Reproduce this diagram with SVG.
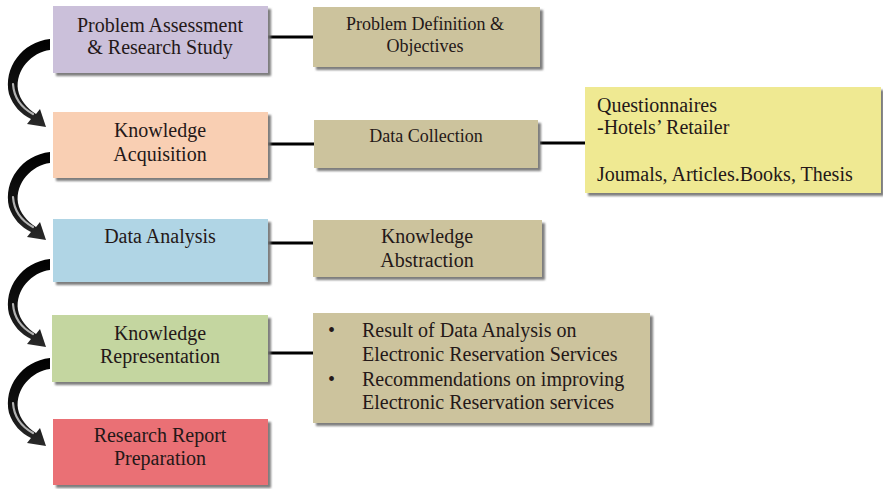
<svg xmlns="http://www.w3.org/2000/svg" xmlns:xlink="http://www.w3.org/1999/xlink" width="883" height="489" viewBox="0 0 883 489">
  <style>
    .box { stroke: none; filter: url(#shadow); }
    .t { font-family: "Liberation Serif", "Times New Roman", serif; font-size: 20px; fill: #241818; }
    .s { font-size: 18px; }
    .c { text-anchor: middle; }
    .link { stroke: #000; stroke-width: 3; fill: none; }
  </style>
  <defs>
    <filter id="shadow" x="-5%" y="-5%" width="115%" height="125%">
      <feDropShadow dx="3" dy="3" stdDeviation="1" flood-color="#6f6f6f" flood-opacity="0.9"/>
    </filter>
    <linearGradient id="arcFill" x1="0" y1="0" x2="0" y2="1">
      <stop offset="0" stop-color="#000"/>
      <stop offset="0.55" stop-color="#111"/>
      <stop offset="1" stop-color="#2a2a2a"/>
    </linearGradient>
    <!-- curved step arrow: wide tail at top, head at bottom right -->
    <g id="arc">
      <path d="M 50 39 C 22 42, 3 68, 9 94 C 13 106, 21 114, 31 119 L 27 124 L 46 127 L 40 109 L 36 114 C 27 108, 20 100, 18 90 C 15 70, 32 52, 50 50 Z" fill="url(#arcFill)"/>
      <path d="M 13 84 C 14 98, 22 108, 33 114" stroke="#cfcfcf" stroke-width="2.2" fill="none" stroke-linecap="round" opacity="0.85"/>
    </g>
  </defs>

  <rect width="883" height="489" fill="#fff"/>

  <!-- connectors -->
  <g id="connectors">
    <line class="link" x1="268" y1="37" x2="313" y2="37"/>
    <line class="link" x1="268" y1="144" x2="314" y2="144"/>
    <line class="link" x1="540" y1="143" x2="585" y2="143"/>
    <line class="link" x1="268" y1="243" x2="313" y2="243"/>
    <line class="link" x1="268" y1="353" x2="313" y2="353"/>
    <use xlink:href="#arc"/>
    <use xlink:href="#arc" transform="translate(0,113)"/>
    <use xlink:href="#arc" transform="translate(0,220)"/>
    <use xlink:href="#arc" transform="translate(0,319)"/>
  </g>

  <!-- main stages -->
  <g id="problem-assessment">
    <rect class="box" x="53" y="6" width="215" height="67" fill="#cbc0da"/>
    <text class="t c" x="160" y="32">Problem Assessment</text>
    <text class="t c" x="160" y="54">&amp; Research Study</text>
  </g>
  <g id="knowledge-acquisition">
    <rect class="box" x="53" y="112" width="215" height="66" fill="#f9cfb3"/>
    <text class="t c" x="160" y="137">Knowledge</text>
    <text class="t c" x="160" y="161">Acquisition</text>
  </g>
  <g id="data-analysis">
    <rect class="box" x="53" y="219" width="215" height="63" fill="#b0d5e5"/>
    <text class="t c" x="160" y="243">Data Analysis</text>
  </g>
  <g id="knowledge-representation">
    <rect class="box" x="52" y="315" width="216" height="67" fill="#c4d6a0"/>
    <text class="t c" x="160" y="340">Knowledge</text>
    <text class="t c" x="160" y="363">Representation</text>
  </g>
  <g id="research-report">
    <rect class="box" x="53" y="419" width="215" height="66" fill="#ea6f75"/>
    <text class="t c" x="160" y="442">Research Report</text>
    <text class="t c" x="160" y="465">Preparation</text>
  </g>

  <!-- outputs -->
  <g id="problem-definition">
    <rect class="box" x="313" y="7" width="227" height="60" fill="#ccc39d"/>
    <text class="t s c" x="425" y="30">Problem Definition &amp;</text>
    <text class="t s c" x="425" y="52">Objectives</text>
  </g>
  <g id="data-collection">
    <rect class="box" x="314" y="120" width="224" height="48" fill="#ccc39d"/>
    <text class="t s c" x="426" y="142">Data Collection</text>
  </g>
  <g id="sources">
    <rect class="box" x="585" y="87" width="296" height="106" fill="#efe992"/>
    <text class="t" x="597" y="112">Questionnaires</text>
    <text class="t" x="597" y="134">-Hotels’ Retailer</text>
    <text class="t" x="597" y="181">Joumals, Articles.Books, Thesis</text>
  </g>
  <g id="knowledge-abstraction">
    <rect class="box" x="313" y="220" width="229" height="57" fill="#ccc39d"/>
    <text class="t c" x="427" y="243">Knowledge</text>
    <text class="t c" x="427" y="267">Abstraction</text>
  </g>
  <g id="results">
    <rect class="box" x="313" y="313" width="337" height="110" fill="#ccc39d"/>
    <text class="t" x="328" y="337">•</text>
    <text class="t" x="362" y="337">Result of Data Analysis on</text>
    <text class="t" x="362" y="361">Electronic Reservation Services</text>
    <text class="t" x="328" y="386">•</text>
    <text class="t" x="362" y="386">Recommendations on improving</text>
    <text class="t" x="362" y="409">Electronic Reservation services</text>
  </g>
</svg>
